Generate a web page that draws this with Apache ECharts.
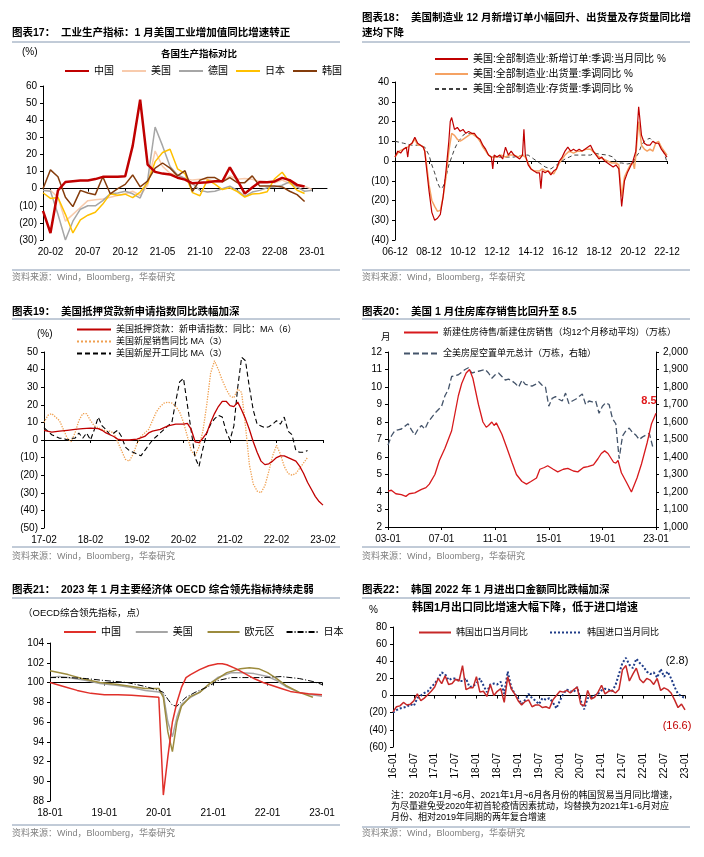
<!DOCTYPE html>
<html><head><meta charset="utf-8">
<script src="https://cdn.jsdelivr.net/npm/echarts/dist/echarts.min.js"></script>
<style>html,body{margin:0;padding:0;background:#fff}#c{width:704px;height:857px}</style>
</head><body><div id="c"></div>
<script>
// ---------- Panel 1: industrial production yoy (%) ----------
const p1Months = ['20-01','20-02','20-03','20-04','20-05','20-06','20-07','20-08','20-09','20-10','20-11','20-12',
  '21-01','21-02','21-03','21-04','21-05','21-06','21-07','21-08','21-09','21-10','21-11','21-12',
  '22-01','22-02','22-03','22-04','22-05','22-06','22-07','22-08','22-09','22-10','22-11','22-12',
  '23-01','23-02','23-03'];
const p1China = [-13,-25.9,-1.1,3.9,4.4,4.8,4.8,5.6,6.9,6.9,7.0,7.3,25,52,14.1,9.8,8.8,8.3,6.4,5.3,3.1,3.5,3.8,4.3,4.3,12.5,5.0,-2.9,0.7,3.9,3.8,4.2,6.3,5.0,2.2,1.3];
const p1US = [-1,-1,-5,-19,-15,-11,-7,-6.5,-6,-5,-4,-3,-1.5,-4,2,22,13,9,8,6,5,5.5,5.5,4,4,7.5,5.5,6,5.5,4,4,3.5,5,3,2,1.5,-0.5];
const p1Germany = [-1,-1.5,-15,-30,-19,-12,-10,-10,-7,-3,-2.5,-1.5,-3,-5.5,5,36,25,13,8,6,3,-1,-2,-1.5,0,1.5,-1,-4.5,-2,-1,0.5,1,2,4,1,-1.5,-1];
const p1Japan = [-2.4,-5.7,-5.2,-15,-25.9,-18.2,-15.5,-13.8,-9,-3,-3.9,-3.2,-5.2,-2,3.4,15.8,21.1,23,11.6,8.8,-2.3,-4.1,5.1,2.7,-0.5,0.5,-1.7,-4.9,-3.1,-2.8,-1.8,5.8,9.6,3.7,-0.9,-2.8];
const p1Korea = [0,11,7,-5,-10.5,-1,-2.5,-3.5,7,-3,0,2.5,8,1,4.5,12,15,12,7.5,10.5,-1.5,5,6.5,6.5,4,6.5,3.5,3.5,7.5,1.5,1.5,1.5,1,-1.5,-3.5,-7.5];

// ---------- Panel 2: [months since 2006-12, yoy %] ----------
const p2Ticks = ['06-12','08-12','10-12','12-12','14-12','16-12','18-12','20-12','22-12'];
const p2Orders = [[0,2],[2,5],[4,4],[6,6],[8,7],[9,2],[10,8],[12,9],[14,12],[16,9],[18,8],[20,7],[21,5],[22,-2],[24,-15],[26,-26],[28,-30],[30,-29],[32,-27],[34,-18],[36,-5],[38,10],[39,20],[40,22],[42,16],[44,17],[46,15],[48,16],[50,14],[52,15],[54,14],[56,14],[58,12],[60,11],[62,8],[64,6],[66,3],[68,2],[69,-4],[70,3],[72,2],[74,3],[76,1],[78,7],[80,3],[82,5],[84,3],[86,2],[88,1],[90,3],[91,16],[92,3],[94,-2],[96,-4],[98,-5],[100,-6],[102,-6],[103,-14],[104,-5],[106,-6],[108,-5],[110,-7],[112,-5],[114,-4],[116,0],[118,2],[120,5],[122,7],[124,5],[126,6],[128,5],[130,6],[132,5],[134,6],[136,7],[138,8],[140,5],[142,3],[144,1],[146,2],[148,0],[150,-1],[152,-2],[154,-3],[156,-2],[158,-4],[160,-23],[162,-10],[164,-6],[166,-3],[168,0],[170,5],[172,27.5],[174,13],[176,9],[178,8],[180,8],[182,10],[184,9],[186,9],[188,6],[190,4],[192,2]];
const p2Ship = [[0,2],[3,5],[6,6],[9,7],[12,9],[14,11],[16,8],[18,8],[20,7],[21,5],[22,0],[24,-12],[26,-20],[28,-23],[30,-25.5],[32,-25],[34,-18],[36,-8],[38,5],[40,14],[42,13],[44,11],[46,10],[48,11],[50,12],[52,13],[54,14],[56,13],[58,12],[60,10],[62,7],[64,5],[66,3],[68,2],[70,2],[72,2],[75,3],[78,2],[81,3],[84,3],[87,2],[90,3],[92,2],[94,-1],[96,-4],[98,-5],[100,-5],[102,-5],[104,-4],[106,-5],[108,-5],[110,-6],[112,-6.5],[114,-4],[116,-1],[118,1],[120,3],[123,5],[126,4],[129,5],[132,5],[135,6],[138,6],[141,4],[144,2],[147,1],[150,0],[153,-1],[156,-1],[158,-2],[160,-18],[162,-8],[164,-5],[166,-2],[168,-1],[169,-4],[170,3],[172,20],[174,8],[176,6],[178,5],[180,6],[182,5],[184,9],[186,10],[188,7],[190,5],[192,3]];
const p2Inv = [[0,10],[6,9],[12,8],[18,8],[21,7],[24,3],[26,-2],[28,-6],[30,-11],[32,-14],[34,-13],[36,-8],[38,-2],[40,2],[42,6],[44,9],[46,11],[48,13],[50,14],[52,14],[54,14],[56,13],[58,12],[60,10],[62,8],[64,5],[66,3],[68,2],[72,2],[78,2],[84,2],[90,3],[94,3],[96,2],[98,1],[100,0],[102,-1],[104,-2],[106,-3],[108,-3.5],[110,-4],[112,-3],[114,-2],[116,-1],[118,0],[120,1],[123,2],[126,3],[132,3],[138,3],[141,4],[144,3.5],[150,3],[154,2],[156,0],[158,-1],[160,-1],[164,-1.5],[168,-1],[170,2],[172,4],[174,8],[176,10],[178,11],[180,11.5],[182,10],[184,9],[186,9],[188,7],[190,4],[192,-0.5]];

// ---------- Panel 3: [months since 2017-02, yoy %] ----------
const p3Ticks = ['17-02','18-02','19-02','20-02','21-02','22-02','23-02'];
const p3Mortgage = [[0,5.5],[2,4.5],[4,5],[6,5.5],[8,6],[10,6.5],[12,6.8],[14,6.5],[15,5.5],[16,4],[17,3],[18,2],[19,0.5],[20,0],[22,0],[24,0.5],[26,2],[27,4],[28,5],[30,6],[32,8],[34,9],[36,9],[37,9.5],[38,6],[39,-1],[40,-1.5],[41,1],[42,4],[43,10],[44,15],[45,19],[46,22],[47,22],[48,19.5],[49,19],[50,21.5],[51,17],[52,12],[53,6],[54,-1],[55,-7],[56,-12],[57,-14],[58,-13.5],[59,-12],[60,-10],[61,-9],[62,-9],[63,-10],[64,-11],[65,-12],[66,-15],[67,-19],[68,-24],[69,-28],[70,-32],[71,-35],[72,-37]];
const p3Sales = [[0,10],[1,14],[2,15],[3,13],[4,11],[5,6],[6,1],[7,-1],[8,4],[9,11],[10,15],[11,15],[12,11],[13,8],[14,7],[15,6],[16,5],[17,5],[18,4],[19,-1],[20,-6],[21,-11],[22,-12],[23,-8],[24,-2],[25,2],[26,4],[27,6],[28,11],[29,16],[30,19],[31,21],[32,21.5],[33,21],[34,19],[35,16],[36,10],[37,2],[38,-6],[39,-9],[40,-4],[41,5],[42,20],[43,38],[44,45],[45,40],[46,34],[47,29],[48,25],[49,24],[50,29],[51,27],[52,8],[53,-14],[54,-25],[55,-29],[56,-30],[57,-26],[58,-18],[59,-9],[60,-3],[61,-8],[62,-15],[63,-19],[64,-20],[65,-19],[66,-16],[67,-13],[68,-10]];
const p3Starts = [[0,7],[1,5],[2,3],[3,2],[4,1],[5,1],[6,0],[7,1],[8,1],[9,4],[10,1],[11,4],[12,0],[13,6],[14,13],[15,8],[16,6],[17,3],[18,4],[19,5.5],[20,2],[21,-4],[22,-6],[23,-7],[24,-8],[25,-9],[26,-6],[27,-3],[28,0],[29,2],[30,4],[31,6],[32,8],[33,10],[34,22],[35,33],[36,35],[37,20],[38,5],[39,-10],[40,-15],[41,-5],[42,4],[43,9],[44,12],[45,14],[46,13],[47,5],[48,0],[49,8],[50,30],[51,47],[52,45],[53,30],[54,17],[55,9],[56,8],[57,7],[58,7.5],[59,9],[60,11],[61,9],[62,13],[63,5],[64,3],[65,-6],[66,-7],[67,-7],[68,-6]];

// ---------- Panel 4: months since 2003-01 ----------
const p4Ticks = ['03-01','07-01','11-01','15-01','19-01','23-01'];
const p4Ratio = [[0,4.05],[3,4.1],[7,3.9],[12,3.85],[16,3.75],[19,3.9],[24,3.95],[30,4.15],[34,4.25],[37,4.45],[42,5.0],[46,5.8],[51,6.5],[57,7.5],[60,8.5],[63,9.5],[66,10.2],[70,10.8],[73,11.0],[76,10.5],[81,9.0],[85,8.0],[88,7.7],[90,7.8],[93,8.0],[95,7.8],[97,7.95],[102,7.3],[106,6.6],[111,5.7],[115,5.0],[120,4.6],[124,4.45],[128,4.6],[133,4.8],[136,5.3],[140,5.4],[143,5.5],[148,5.3],[152,5.15],[157,5.3],[161,5.35],[166,5.2],[170,5.15],[175,5.4],[179,5.45],[184,5.55],[188,5.9],[191,6.2],[194,6.35],[197,6.2],[202,5.7],[204,5.65],[206,5.8],[209,5.1],[214,4.5],[218,4.0],[223,4.8],[227,5.6],[232,6.8],[236,7.9],[240,8.5]];
// quarterly, from 2003Q1
const p4Vacant = [1468,1520,1550,1555,1560,1575,1590,1555,1525,1560,1580,1560,1600,1625,1650,1670,1690,1750,1785,1860,
  1865,1870,1885,1900,1910,1880,1885,1890,1895,1900,1880,1850,1870,1880,1860,1840,1845,1835,1820,1800,
  1840,1815,1810,1805,1815,1830,1810,1800,1690,1735,1745,1730,1720,1765,1705,1720,1730,1745,1760,1700,
  1720,1715,1720,1650,1690,1710,1700,1620,1590,1390,1520,1550,1565,1540,1525,1500,1515,1525,1535,1460];

// ---------- Panel 5: months since 2018-01, OECD CLI ----------
const p5Ticks = ['18-01','19-01','20-01','21-01','22-01','23-01'];
const p5China = [[0,100],[3,99.6],[6,99.2],[9,98.9],[12,98.75],[15,98.75],[18,98.7],[21,98.6],[24,98.5],[25,88.6],[26,92.5],[27,96],[28,98],[29,99.5],[30,100.5],[31,100.8],[33,101.3],[35,101.7],[37,101.9],[38,101.9],[39,101.8],[41,101.4],[43,100.9],[45,100.4],[47,100],[49,99.7],[51,99.4],[53,99.1],[55,98.95],[57,98.85],[60,98.75]];
const p5US = [[0,100.5],[2,100.6],[4,100.5],[8,100.2],[11,99.9],[15,99.7],[18,99.5],[21,99.2],[24,99.05],[25,98.8],[26,96],[27,94.5],[28,96.5],[29,97.8],[31,98.5],[33,99],[35,99.8],[37,100.5],[40,101],[42,101],[45,100.9],[48,100.6],[50,100.2],[52,99.6],[55,99],[57,98.8],[60,98.6]];
const p5Euro = [[0,101.2],[4,100.8],[7,100.4],[11,100],[15,99.8],[18,99.6],[21,99.4],[24,99.4],[25,98.5],[26,95],[27,93],[28,96],[29,97.6],[31,98.6],[33,99],[35,99.8],[37,100.4],[39,101],[42,101.4],[44,101.5],[46,101.4],[48,101],[50,100.4],[52,99.7],[55,99.0],[58,98.5]];
const p5Japan = [[0,100.5],[4,100.5],[8,100.4],[12,100.2],[17,100],[21,99.6],[24,99.2],[25,99],[26,98.3],[27,97.7],[28,97.6],[30,98.5],[32,99],[35,99.6],[37,100.2],[40,100.5],[43,100.5],[47,100.5],[51,100.6],[55,100.4],[58,100.1],[60,99.8]];

// ---------- Panel 6: monthly from 2016-01, yoy % ----------
const p6Ticks = ['16-01','16-07','17-01','17-07','18-01','18-07','19-01','19-07','20-01','20-07','21-01','21-07','22-01','22-07','23-01'];
const p6Exports = [-19,-13,-12,-8,-11,-10,-6,2,-6,-3,1,5,10,20,14,23,13,14,19,17,35,7,9,9,22,4,5,-1,13,0,5,8,-8,22,8,2,
  -6,-11,-7,-5,-13,-11,-11,-14,-13,-15,-5,0,5,4,6,3,7,10,-10,-12,6,-4,-2,4,12,2,5,6,3,7,30,35,17,25,32,19,15,20,18,13,20,6,9,7,3,-5,-14,-10,-16.6];
const p6Imports = [-20,-17,-15,-14,-13,-10,-12,-3,0,3,5,10,14,20,27,25,18,20,20,17,17,20,10,11,14,20,12,4,13,14,13,16,2,28,10,2,
  -3,-10,-5,2,-3,-6,-10,-3,-5,-3,-8,-15,-6,2,7,5,4,10,-6,-16,-3,-2,0,2,6,8,7,5,12,25,38,44,36,32,43,38,34,28,25,27,21,31,22,28,20,10,2,-1,-2.8];

// ---------- helpers ----------
const FONT = "'Liberation Sans','Noto Sans CJK SC',sans-serif";
const pct = v => v < 0 ? '(' + Math.abs(v) + ')' : String(v);
const thou = v => v >= 1000 ? Math.floor(v / 1000) + ',' + String(v % 1000).padStart(3, '0') : String(v);
const lbl = {color:'#000', fontSize:10, fontFamily:FONT};

function yAx(grid, min, max, interval, fmt, extra) {
  return Object.assign({type:'value', gridIndex:grid, min, max, interval,
    axisLine:{show:true, onZero:false, lineStyle:{color:'#000', width:1}},
    axisTick:{show:true, length:3, lineStyle:{color:'#000'}},
    splitLine:{show:false},
    axisLabel:Object.assign({margin:6, formatter:fmt}, lbl)}, extra || {});
}
function xLab(grid, max, interval, ticks, extra) {
  return Object.assign({type:'value', gridIndex:grid, min:0, max, interval, position:'bottom',
    axisLine:{show:false, onZero:false}, axisTick:{show:false}, splitLine:{show:false},
    axisLabel:Object.assign({margin:7, formatter:v => ticks[Math.round(v / interval)] || ''}, lbl)}, extra || {});
}
function xZero(grid, max, interval, extra) {
  return Object.assign({type:'value', gridIndex:grid, min:0, max, interval, position:'bottom',
    axisLine:{show:true, onZero:true, lineStyle:{color:'#000', width:1}},
    axisTick:{show:true, length:3, lineStyle:{color:'#000'}},
    axisLabel:{show:false}, splitLine:{show:false}}, extra || {});
}
function ser(name, data, xi, yi, color, width, type, extra) {
  return Object.assign({type:'line', name, data, xAxisIndex:xi, yAxisIndex:yi, symbol:'none',
    lineStyle:{color, width, type:type || 'solid'}, itemStyle:{color},
    emphasis:{disabled:true}, silent:true, animation:false}, extra || {});
}
function endMark(coord, text, color, dx, dy, bold) {
  return {markPoint:{symbol:'circle', symbolSize:1, silent:true, animation:false,
    itemStyle:{color:'rgba(0,0,0,0)'},
    data:[{coord, label:{show:true, position:'inside', offset:[dx, dy], formatter:text,
      color, fontSize:11, fontFamily:FONT, fontWeight:bold ? 'bold' : 'normal'}}]}};
}
function T(x, y, text, font, extra) {
  return {type:'text', x, y, silent:true, style:Object.assign({text, fill:'#000',
    font:(font || 'bold 10.5px') + ' ' + FONT, textAlign:'left', align:'left',
    textVerticalAlign:'middle', verticalAlign:'middle'}, extra || {})};
}
function L(x1, y1, x2, y2) {
  return {type:'line', silent:true, shape:{x1, y1, x2, y2}, style:{stroke:'#8497b0', lineWidth:1}};
}
const SRC = '资料来源：Wind，Bloomberg，华泰研究';
const srcStyle = {fill:'#808080'};
const legText = sz => ({color:'#000', fontSize:sz, fontFamily:FONT});
// legend: line only, hide the symbol drawn in the middle of the icon
const legBase = {padding:0, selectedMode:false, itemHeight:10,
  itemStyle:{opacity:0, color:'rgba(0,0,0,0)', borderWidth:0}};
const leg = o => Object.assign({}, legBase, o);

const p1Tick = i => (i - 1) % 5 === 0 && i <= 36;

const option = {
  animation:false,
  backgroundColor:'#fff',
  grid:[
    {left:43, top:86, width:284, height:154, containLabel:false, outerBoundsMode:'none'},
    {left:395, top:82, width:272, height:158, containLabel:false, outerBoundsMode:'none'},
    {left:44, top:352, width:279, height:176, containLabel:false, outerBoundsMode:'none'},
    {left:388, top:352, width:268, height:175, containLabel:false, outerBoundsMode:'none'},
    {left:50, top:643, width:272, height:158, containLabel:false, outerBoundsMode:'none'},
    {left:393, top:627, width:292, height:120, containLabel:false, outerBoundsMode:'none'}
  ],
  xAxis:[
    {type:'category', gridIndex:0, data:p1Months, boundaryGap:false, position:'bottom',
      axisLine:{show:false, onZero:false}, axisTick:{show:false}, splitLine:{show:false},
      axisLabel:Object.assign({interval:p1Tick, margin:7}, lbl)},
    {type:'category', gridIndex:0, data:p1Months, boundaryGap:false, position:'bottom',
      axisLine:{show:true, onZero:true, lineStyle:{color:'#000', width:1}},
      axisTick:{show:true, length:3, interval:p1Tick, lineStyle:{color:'#000'}},
      axisLabel:{show:false}, splitLine:{show:false}},
    xLab(1, 192, 24, p2Ticks),
    xZero(1, 192, 24),
    xLab(2, 72, 12, p3Ticks),
    xZero(2, 72, 12),
    {type:'value', gridIndex:3, min:0, max:240, interval:48, position:'bottom',
      axisLine:{show:true, onZero:false, lineStyle:{color:'#000', width:1}},
      axisTick:{show:true, length:3, lineStyle:{color:'#000'}}, splitLine:{show:false},
      axisLabel:Object.assign({margin:7, formatter:v => p4Ticks[Math.round(v / 48)] || ''}, lbl)},
    xLab(4, 60, 12, p5Ticks),
    xZero(4, 60, 12, {axisLine:{show:true, onZero:true, onZeroAxisIndex:6, lineStyle:{color:'#000', width:1}}}),
    xLab(5, 84, 6, p6Ticks, {axisLabel:Object.assign({margin:6, rotate:90, formatter:v => p6Ticks[Math.round(v / 6)] || ''}, lbl)}),
    xZero(5, 84, 6)
  ],
  yAxis:[
    yAx(0, -30, 60, 10, pct),
    yAx(1, -40, 40, 10, pct),
    yAx(2, -50, 50, 10, pct),
    yAx(3, 2, 12, 1, v => String(v)),
    yAx(3, 1000, 2000, 100, thou, {position:'right', axisLabel:Object.assign({margin:7, formatter:thou}, lbl)}),
    yAx(4, 88, 104, 2, v => String(v)),
    {type:'value', gridIndex:4, min:-12, max:4, show:false, axisLine:{onZero:false}, splitLine:{show:false}},
    yAx(5, -60, 80, 20, pct)
  ],
  legend:[
    leg({left:64, top:66, orient:'horizontal', itemWidth:24, itemGap:7,
      data:['中国','美国','德国','日本','韩国'], textStyle:legText(10)}),
    leg({left:434, top:54, orient:'vertical', itemWidth:33, itemGap:5,
      data:['美国:全部制造业:新增订单:季调:当月同比 %','美国:全部制造业:出货量:季调同比 %','美国:全部制造业:存货量:季调同比 %'], textStyle:legText(10)}),
    leg({left:76, top:325, orient:'vertical', itemWidth:34, itemGap:3,
      data:['美国抵押贷款：新申请指数：同比：MA（6）','美国新屋销售同比 MA（3）','美国新屋开工同比 MA（3）'], textStyle:legText(9)}),
    leg({left:403, top:328, orient:'vertical', itemWidth:34, itemGap:12,
      data:['新建住房待售/新建住房销售（均12个月移动平均）（万栋）','全美房屋空置单元总计（万栋，右轴）'], textStyle:legText(9)}),
    leg({left:63, top:627, orient:'horizontal', itemWidth:32, itemGap:11,
      data:['中国 ','美国 ','欧元区','日本 '], textStyle:legText(10)}),
    leg({left:418, top:628, orient:'horizontal', itemWidth:32, itemGap:21,
      data:['韩国出口当月同比','韩国进口当月同比'], textStyle:legText(9)})
  ],
  series:[
    ser('美国', p1US, 0, 0, '#f8cbad', 1.5),
    ser('德国', p1Germany, 0, 0, '#a6a6a6', 1.5),
    ser('日本', p1Japan, 0, 0, '#ffc000', 1.5),
    ser('韩国', p1Korea, 0, 0, '#843c0c', 1.5),
    ser('中国', p1China, 0, 0, '#c00000', 2.5, 'solid', {z:5}),

    ser('美国:全部制造业:存货量:季调同比 %', p2Inv, 2, 1, '#404040', 1, [4, 3]),
    ser('美国:全部制造业:出货量:季调同比 %', p2Ship, 2, 1, '#f5a263', 1.5),
    ser('美国:全部制造业:新增订单:季调:当月同比 %', p2Orders, 2, 1, '#c00000', 1.2),

    ser('美国新屋销售同比 MA（3）', p3Sales, 4, 2, '#f0a050', 1.3, 'dotted'),
    ser('美国新屋开工同比 MA（3）', p3Starts, 4, 2, '#000000', 1.1, [5, 3]),
    ser('美国抵押贷款：新申请指数：同比：MA（6）', p3Mortgage, 4, 2, '#c00000', 1.3),

    ser('全美房屋空置单元总计（万栋，右轴）', p4Vacant.map((v, k) => [k * 3, v]), 6, 4, '#44546a', 1.3, [6, 3]),
    ser('新建住房待售/新建住房销售（均12个月移动平均）（万栋）', p4Ratio, 6, 3, '#d7191c', 1.3, 'solid',
      endMark(p4Ratio[p4Ratio.length - 1], String(p4Ratio[p4Ratio.length - 1][1]), '#e0191b', -7, -12, true)),

    ser('美国 ', p5US, 7, 5, '#a5a5a5', 1.5),
    ser('欧元区', p5Euro, 7, 5, '#9c8b3d', 1.5),
    ser('日本 ', p5Japan, 7, 5, '#000000', 1, [6, 2, 1, 2]),
    ser('中国 ', p5China, 7, 5, '#e0302a', 1.5),

    ser('韩国进口当月同比', p6Imports.map((v, i) => [i, v]), 9, 7, '#1f3c88', 2, 'dotted',
      endMark([p6Imports.length - 1, p6Imports[p6Imports.length - 1]], pct(p6Imports[p6Imports.length - 1]), '#000', -8, -37, false)),
    ser('韩国出口当月同比', p6Exports.map((v, i) => [i, v]), 9, 7, '#c62828', 1.5, 'solid',
      endMark([p6Exports.length - 1, p6Exports[p6Exports.length - 1]], pct(p6Exports[p6Exports.length - 1]), '#c00000', -8, 16, false))
  ],
  graphic:{elements:[
    T(12, 33, '图表17：  工业生产指标：1 月美国工业增加值同比增速转正'),
    T(362, 18, '图表18：  美国制造业 12 月新增订单小幅回升、出货量及存货量同比增'),
    T(362, 33, '速均下降'),
    T(12, 312, '图表19：  美国抵押贷款新申请指数同比跌幅加深'),
    T(362, 312, '图表20：  美国 1 月住房库存销售比回升至 8.5'),
    T(12, 590, '图表21：  2023 年 1 月主要经济体 OECD 综合领先指标持续走弱'),
    T(362, 590, '图表22：  韩国 2022 年 1 月进出口金额同比跌幅加深'),
    L(12, 42, 340, 42), L(362, 42, 690, 42), L(12, 319, 340, 319), L(362, 319, 690, 319), L(12, 598, 340, 598), L(362, 598, 690, 598),
    L(12, 270, 340, 270), L(362, 270, 690, 270), L(12, 547, 340, 547), L(362, 547, 690, 547), L(12, 825, 340, 825), L(362, 827, 690, 827),
    T(12, 278, SRC, '9px', srcStyle), T(362, 278, SRC, '9px', srcStyle), T(12, 557, SRC, '9px', srcStyle),
    T(362, 557, SRC, '9px', srcStyle), T(12, 834, SRC, '9px', srcStyle), T(362, 834, SRC, '9px', srcStyle),
    T(22, 52, '(%)', '10px'),
    T(199, 54, '各国生产指标对比', 'bold 9.5px', {textAlign:'center', align:'center'}),
    T(37, 334, '(%)', '10px'),
    T(381, 337, '月', '9.5px'),
    T(23, 613, '（OECD综合领先指标，点）', '9.5px'),
    T(369, 610, '%', '10px'),
    T(525, 608, '韩国1月出口同比增速大幅下降，低于进口增速', 'bold 11px', {textAlign:'center', align:'center'}),
    T(391, 796, '注：2020年1月~6月、2021年1月~6月各月份的韩国贸易当月同比增速，', '9px'),
    T(391, 807, '为尽量避免受2020年初首轮疫情因素扰动，均替换为2021年1-6月对应', '9px'),
    T(391, 818, '月份、相对2019年同期的两年复合增速', '9px')
  ]}
};
const chart = echarts.init(document.getElementById('c'), null, {renderer:'canvas'});
chart.setOption(option);
</script></body></html>
